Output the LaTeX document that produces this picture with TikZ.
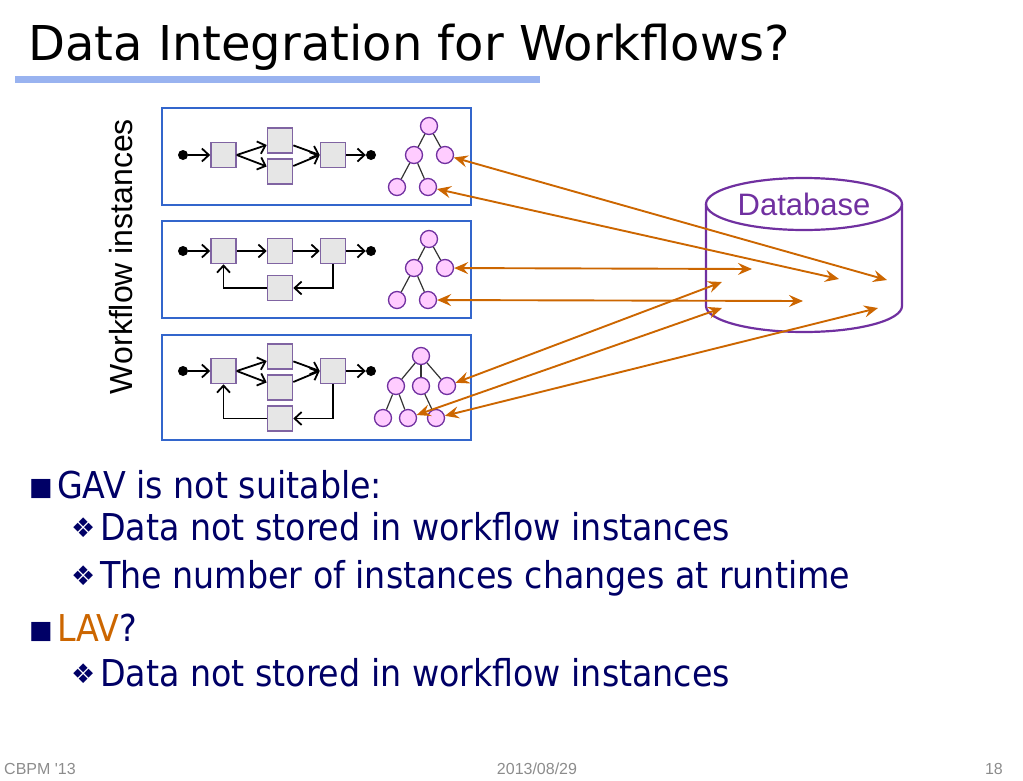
\documentclass[tikz,border=0pt]{standalone}
\usepackage{fontspec}
\setmainfont{DejaVu Sans}
\newfontfamily\bodyfont{DejaVu Sans Condensed}
\newfontfamily\symfont{DejaVu Sans}
\newfontfamily\arialfont{Liberation Sans}
\newfontfamily\titlefont{DejaVu Sans}
\usetikzlibrary{arrows.meta}
\definecolor{navy}{HTML}{000066}
\definecolor{orng}{HTML}{CC6600}
\definecolor{purp}{HTML}{7030A0}
\definecolor{boxblue}{HTML}{3366CC}
\definecolor{barblue}{HTML}{99B3F0}
\definecolor{sqfill}{HTML}{E6E6E6}
\definecolor{sqdraw}{HTML}{8064A2}
\definecolor{cfill}{HTML}{FFCCFF}
\definecolor{foot}{HTML}{8C8C8C}
\definecolor{tline}{HTML}{333333}
\begin{document}
\begin{tikzpicture}[x=1pt,y=-1pt,
  task/.style={draw=sqdraw, fill=sqfill, line width=1.6pt, minimum size=25pt, inner sep=0pt},
  tnode/.style={circle, draw=purp, fill=cfill, line width=1.3pt, minimum size=17pt, inner sep=0pt},
  dotnode/.style={circle, fill=black, minimum size=10pt, inner sep=0pt},
  flow/.style={line width=1.8pt, -{Straight Barb[length=7pt,width=13pt]}},
  tedge/.style={draw=tline, line width=1.2pt},
  inst/.style={draw=boxblue, line width=1.6pt, inner sep=0pt},
  oarr/.style={draw=orng, line width=1.9pt, {Stealth[length=14pt,width=12pt,inset=5pt]}-{Stealth[length=14pt,width=12pt,inset=5pt]}},
  bodytxt/.style={anchor=base west, inner sep=0pt, text=navy, font=\bodyfont\fontsize{37}{40}\selectfont},
  subbul/.style={anchor=base west, inner sep=0pt, text=navy, font=\symfont\fontsize{27}{29}\selectfont},
  mainbul/.style={anchor=base west, inner sep=0pt, text=navy, font=\symfont\fontsize{25}{27}\selectfont},
  foottxt/.style={inner sep=0pt, text=foot, font=\arialfont\fontsize{16}{18}\selectfont}
]
\useasboundingbox (0,0) rectangle (1023,780);

% title
\node[anchor=base west, inner sep=0pt, font=\titlefont\fontsize{48}{50}\selectfont] (title) at (28,60) {Data Integration for Workflows?};
\fill[barblue] (15,76) rectangle (540,83);

% vertical label
\node[rotate=90, inner sep=0pt, font=\arialfont\fontsize{32}{34}\selectfont] (wi) at (121,256.5) {Workflow instances};

% instance boxes
\node[inst, minimum width=309pt, minimum height=97pt] (box1) at (316.5,156.5) {};
\node[inst, minimum width=309pt, minimum height=97pt] (box2) at (316.5,269.5) {};
\node[inst, minimum width=309pt, minimum height=105pt] (box3) at (316.5,387.5) {};

% ---- box 1 workflow
\node[dotnode] (s1) at (183,155) {};
\node[task] (a1) at (223.5,155) {};
\node[task] (b1) at (280,140.5) {};
\node[task] (c1) at (280,171.5) {};
\node[task] (d1) at (333,155) {};
\node[dotnode] (e1) at (371,155) {};
\draw[flow] (s1) -- (a1);
\draw[flow] (a1.east) -- (b1);
\draw[flow] (a1.east) -- (c1);
\draw[flow] (b1) -- (d1.west);
\draw[flow] (c1) -- (d1.west);
\draw[flow] (d1) -- (e1);

% ---- box 2 workflow
\node[dotnode] (s2) at (183,251) {};
\node[task] (a2) at (223.5,251) {};
\node[task] (b2) at (280,251) {};
\node[task] (d2) at (333,251) {};
\node[dotnode] (e2) at (371,251) {};
\node[task] (l2) at (280,288) {};
\draw[flow] (s2) -- (a2);
\draw[flow] (a2) -- (b2);
\draw[flow] (b2) -- (d2);
\draw[flow] (d2) -- (e2);
\draw[flow] (d2.south) |- (l2.east);
\draw[flow] (l2.west) -| (a2.south);

% ---- box 3 workflow
\node[dotnode] (s3) at (183,371) {};
\node[task] (a3) at (223.5,371) {};
\node[task] (b3) at (280,356.5) {};
\node[task] (c3) at (280,387.5) {};
\node[task] (d3) at (333,371) {};
\node[dotnode] (e3) at (371,371) {};
\node[task] (l3) at (280,418.5) {};
\draw[flow] (s3) -- (a3);
\draw[flow] (a3.east) -- (b3);
\draw[flow] (a3.east) -- (c3);
\draw[flow] (b3) -- (d3.west);
\draw[flow] (c3) -- (d3.west);
\draw[flow] (d3) -- (e3);
\draw[flow] (d3.south) |- (l3.east);
\draw[flow] (l3.west) -| (a3.south);

% ---- trees
\node[tnode] (r1) at (429,126) {};
\node[tnode] (m1a) at (414,155) {};
\node[tnode] (m1b) at (445,155) {};
\node[tnode] (q1a) at (397,187) {};
\node[tnode] (q1b) at (428,187) {};
\draw[tedge] (r1) -- (m1a); \draw[tedge] (r1) -- (m1b);
\draw[tedge] (m1a) -- (q1a); \draw[tedge] (m1a) -- (q1b);

\node[tnode] (r2) at (429,239) {};
\node[tnode] (m2a) at (414,268) {};
\node[tnode] (m2b) at (445,268) {};
\node[tnode] (q2a) at (397,300) {};
\node[tnode] (q2b) at (428,300) {};
\draw[tedge] (r2) -- (m2a); \draw[tedge] (r2) -- (m2b);
\draw[tedge] (m2a) -- (q2a); \draw[tedge] (m2a) -- (q2b);

\node[tnode] (r3) at (421,356) {};
\node[tnode] (m3a) at (396,386) {};
\node[tnode] (m3b) at (421,386) {};
\node[tnode] (m3c) at (447,386) {};
\node[tnode] (q3a) at (383,418) {};
\node[tnode] (q3b) at (408,418) {};
\node[tnode] (q3c) at (436,418) {};
\draw[tedge] (r3) -- (m3a); \draw[tedge] (r3) -- (m3b); \draw[tedge] (r3) -- (m3c);
\draw[tedge] (m3a) -- (q3a); \draw[tedge] (m3a) -- (q3b);
\draw[tedge] (m3b) -- (q3c);

% ---- database
\draw[purp, line width=2.2pt] (804,204) ellipse [x radius=98, y radius=26];
\draw[purp, line width=2.2pt] (706,204) -- (706,306) arc[start angle=180, end angle=0, x radius=98, y radius=26] -- (902,204);
\node[inner sep=0pt, text=purp, font=\arialfont\fontsize{31}{33}\selectfont] (db) at (804,204) {Database};

% database end points
\coordinate (k1) at (887,280);
\coordinate (k2) at (839,279);
\coordinate (k3) at (752,269);
\coordinate (k4) at (803,301);
\coordinate (k5) at (722,282);
\coordinate (k6) at (722,308);
\coordinate (k7) at (878,308);

\draw[oarr] (m1b) -- (k1);
\draw[oarr] (q1b) -- (k2);
\draw[oarr] (m2b) -- (k3);
\draw[oarr] (q2b) -- (k4);
\draw[oarr] (m3c) -- (k5);
\draw[oarr] (q3b) -- (k6);
\draw[oarr] (q3c) -- (k7);

% ---- bullets
\node[mainbul] (bu1) at (29,495) {■};
\node[bodytxt] (t1) at (57,498) {GAV is not suitable:};
\node[subbul] (bu2) at (71,537) {❖};
\node[bodytxt] (t2) at (100,540) {Data not stored in workflow instances};
\node[subbul] (bu3) at (71,585) {❖};
\node[bodytxt] (t3) at (100,588) {The number of instances changes at runtime};
\node[mainbul] (bu4) at (29,638) {■};
\node[bodytxt] (t4) at (57,641) {\textcolor{orng}{LAV}?};
\node[subbul] (bu5) at (71,683) {❖};
\node[bodytxt] (t5) at (100,686) {Data not stored in workflow instances};

% ---- footer
\node[foottxt, anchor=base west] (f1) at (4,774) {CBPM '13};
\node[foottxt, anchor=base] (f2) at (537,774) {2013/08/29};
\node[foottxt, anchor=base east] (f3) at (1003,774) {18};
\end{tikzpicture}
\end{document}
